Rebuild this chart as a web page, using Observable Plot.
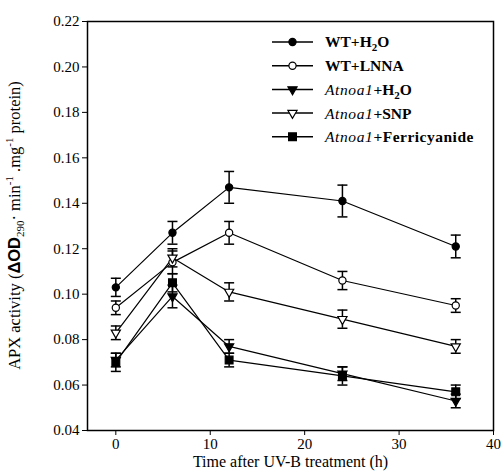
<!DOCTYPE html>
<html>
<head>
<meta charset="utf-8">
<script src="https://cdn.jsdelivr.net/npm/d3@7"></script>
<script src="https://cdn.jsdelivr.net/npm/@observablehq/plot@0.6"></script>
<style>
  html, body { margin: 0; padding: 0; background: white; }
  #chart { width: 503px; height: 475px; }
  #chart svg text { font-family: "Liberation Serif", "Times New Roman", serif; }
</style>
</head>
<body>
<div id="chart"></div>
<script>
// ---- data ----
const times = [0, 6, 12, 24, 36];
const xTicks = [0, 10, 20, 30, 40];
const yTicks = [0.04, 0.06, 0.08, 0.10, 0.12, 0.14, 0.16, 0.18, 0.20, 0.22];
const seriesNames = ["WT+H2O", "WT+LNNA", "Atnoa1+H2O", "Atnoa1+SNP", "Atnoa1+Ferricyanide"];

const wtH2O      = [0.103, 0.127, 0.147, 0.141, 0.121];
const wtH2OErr   = [0.004, 0.005, 0.007, 0.007, 0.005];
const wtLNNA     = [0.094, 0.114, 0.127, 0.106, 0.095];
const wtLNNAErr  = [0.003, 0.005, 0.005, 0.004, 0.003];
const atH2O      = [0.071, 0.099, 0.077, 0.065, 0.053];
const atH2OErr   = [0.003, 0.005, 0.003, 0.003, 0.003];
const atSNP      = [0.083, 0.116, 0.101, 0.089, 0.077];
const atSNPErr   = [0.003, 0.004, 0.004, 0.004, 0.003];
const atFerri    = [0.070, 0.105, 0.071, 0.064, 0.057];
const atFerriErr = [0.004, 0.004, 0.003, 0.004, 0.003];

const seriesValues = [wtH2O, wtLNNA, atH2O, atSNP, atFerri];
const seriesErrs = [wtH2OErr, wtLNNAErr, atH2OErr, atSNPErr, atFerriErr];

// ---- styles ----
const styles = [
  {symbol: "circle",   fill: "black", rotate: 0,   r: 3.6},
  {symbol: "circle",   fill: "white", rotate: 0,   r: 3.6},
  {symbol: "triangle", fill: "black", rotate: 180, r: 3.4},
  {symbol: "triangle", fill: "white", rotate: 180, r: 3.4},
  {symbol: "square",   fill: "black", rotate: 0,   r: 4.4}
];

const rows = [];
seriesNames.forEach((name, i) => {
  times.forEach((t, j) => {
    rows.push({series: name, idx: i, t, v: seriesValues[i][j], e: seriesErrs[i][j]});
  });
});

const capSymbol = {
  draw(ctx, size) {
    const r = 5;
    ctx.moveTo(-r, 0);
    ctx.lineTo(r, 0);
  }
};

const M = {left: 87, right: 10, top: 21, bottom: 45};
const W = 503, H = 475;

const markerMarks = styles.map((s, i) =>
  Plot.dot(rows.filter(d => d.idx === i), {
    x: "t", y: "v", symbol: s.symbol, r: s.r, rotate: s.rotate,
    fill: s.fill, stroke: "black", strokeWidth: 1.2
  })
);

const chart = Plot.plot({
  width: W, height: H,
  marginLeft: M.left, marginRight: M.right, marginTop: M.top, marginBottom: M.bottom,
  style: {fontFamily: "'Liberation Serif', 'Times New Roman', serif", fontSize: "15px", color: "black", background: "white", overflow: "visible"},
  x: {domain: [-3, 40]},
  y: {domain: [0.04, 0.22]},
  marks: [
    Plot.line(rows, {x: "t", y: "v", z: "series", stroke: "black", strokeWidth: 1.2}),
    Plot.ruleX(rows, {x: "t", y1: d => d.v - d.e, y2: d => d.v + d.e, stroke: "black", strokeWidth: 1.5}),
    Plot.dot(rows, {x: "t", y: d => d.v + d.e, symbol: capSymbol, r: 5, fill: "none", stroke: "black", strokeWidth: 1.5}),
    Plot.dot(rows, {x: "t", y: d => d.v - d.e, symbol: capSymbol, r: 5, fill: "none", stroke: "black", strokeWidth: 1.5}),
    ...markerMarks,
    Plot.frame({stroke: "black", strokeWidth: 1.5}),
    Plot.axisX({ticks: xTicks, tickSize: 5, tickPadding: 3, label: null, fontSize: 15}),
    Plot.axisY({ticks: yTicks, tickSize: 5, tickPadding: 3, tickFormat: ".2f", label: null, fontSize: 15}),
    Plot.text(["Time after UV-B treatment (h)"], {frameAnchor: "bottom", dy: 36, fontSize: 16})
  ]
});

document.getElementById("chart").appendChild(chart);

// ---- y-axis label with sub/superscripts ----
const svg = d3.select(chart);
const yMid = (M.top + (H - M.bottom)) / 2;
const yl = svg.append("text")
  .attr("transform", `translate(20,${yMid}) rotate(-90)`)
  .attr("text-anchor", "middle")
  .attr("font-size", 16.5)
  .attr("fill", "black");
yl.append("tspan").text("APX activity (");
yl.append("tspan").attr("font-family", "'Liberation Sans', Arial, sans-serif").attr("font-weight", "bold").text("ΔOD");
yl.append("tspan").attr("font-size", 11).attr("dy", 4).text("290");
yl.append("tspan").attr("dy", -4).text("· min");
yl.append("tspan").attr("font-size", 11).attr("dy", -7).text("-1");
yl.append("tspan").attr("dy", 7).text(" .mg");
yl.append("tspan").attr("font-size", 11).attr("dy", -7).text("-1");
yl.append("tspan").attr("dy", 7).text(" protein)");

// ---- legend ----
const legendX0 = 272, legendX1 = 313, legendTextX = 325, legendY0 = 42, legendStep = 23.7;
const leg = svg.append("g").attr("text-anchor", "start");
const symbolGen = {circle: d3.symbolCircle, triangle: d3.symbolTriangle, square: d3.symbolSquare};
seriesNames.forEach((name, i) => {
  const s = styles[i];
  const y = legendY0 + i * legendStep;
  const g = leg.append("g");
  g.append("line").attr("x1", legendX0).attr("x2", legendX1).attr("y1", y).attr("y2", y)
    .attr("stroke", "black").attr("stroke-width", 1.5);
  g.append("path")
    .attr("d", d3.symbol(symbolGen[s.symbol], Math.PI * s.r * s.r)())
    .attr("transform", `translate(${(legendX0 + legendX1) / 2},${y}) rotate(${s.rotate})`)
    .attr("fill", s.fill).attr("stroke", "black").attr("stroke-width", 1.2);
  const t = g.append("text").attr("x", legendTextX).attr("y", y).attr("dy", "0.35em")
    .attr("text-anchor", "start")
    .attr("font-size", 15.5)
    .attr("font-weight", "bold").attr("fill", "black");
  const plus = name.indexOf("+");
  const prefix = name.slice(0, plus);
  const suffix = name.slice(plus);
  if (prefix.startsWith("Atnoa")) {
    t.append("tspan").attr("font-style", "italic").attr("font-weight", "normal")
      .attr("letter-spacing", 0.6).text("Atnoa1");
  } else {
    t.append("tspan").text(prefix);
  }
  if (suffix.includes("H2O")) {
    t.append("tspan").text("+H");
    t.append("tspan").attr("font-size", 11).attr("dy", 4).text("2");
    t.append("tspan").attr("dy", -4).text("O");
  } else {
    t.append("tspan").attr("letter-spacing", suffix.length > 6 ? 0.5 : 0).text(suffix);
  }
});
</script>
</body>
</html>
